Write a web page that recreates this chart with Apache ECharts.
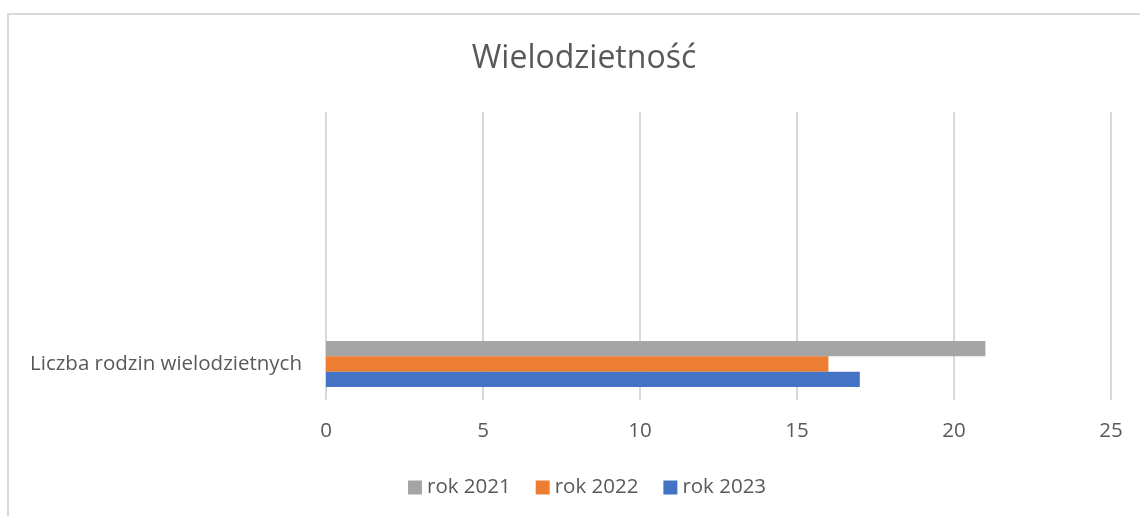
<!DOCTYPE html>
<html><head><meta charset="utf-8">
<script src="https://cdn.jsdelivr.net/npm/echarts@6/dist/echarts.min.js"></script>
<style>html,body{margin:0;padding:0;background:#fff}#c{width:1140px;height:516px}</style>
</head><body><div id="c"></div>
<script>
const titleText = 'Wielodzietność';
const categories = ['Liczba rodzin wielodzietnych', '', '', ''];
const seriesNames = ['rok 2021', 'rok 2022', 'rok 2023'];
const values2021 = [21, null, null, null];
const values2022 = [16, null, null, null];
const values2023 = [17, null, null, null];
const xTicks = [0, 5, 10, 15, 20, 25];

const colors = ['#A5A5A5', '#ED7D31', '#4472C4'];
const FONT = 'Open Sans';
const chart = echarts.init(document.getElementById('c'), null, {renderer: 'canvas'});
const allValues = [values2021, values2022, values2023];
chart.setOption({
  animation: false,
  graphic: [{type: 'rect', shape: {x: 8, y: 14, width: 1200, height: 600},
    style: {fill: 'none', stroke: '#D9D9D9', lineWidth: 2}, silent: true, z: -1}],
  title: {text: titleText, left: 579, top: 38, textAlign: 'center',
    textStyle: {fontFamily: FONT, fontSize: 32, fontWeight: 'normal', color: '#595959'}},
  legend: {data: seriesNames, left: 403, top: 472, icon: 'rect', itemWidth: 14, itemHeight: 14, itemGap: 25,
    textStyle: {fontFamily: FONT, fontSize: 20.5, color: '#595959'}},
  grid: {left: 326, right: 29, top: 112, bottom: 116, containLabel: false},
  xAxis: {type: 'value', min: xTicks[0], max: xTicks[xTicks.length - 1], interval: 5,
    axisLine: {show: false}, axisTick: {show: false},
    splitLine: {lineStyle: {color: '#D9D9D9', width: 2}},
    axisLabel: {margin: 21, fontFamily: FONT, fontSize: 20.5, color: '#595959'}},
  yAxis: {type: 'category', data: categories,
    axisLine: {show: false}, axisTick: {show: false}, splitLine: {show: false},
    axisLabel: {margin: 24, fontFamily: FONT, fontSize: 20.5, color: '#595959'}},
  series: seriesNames.map((n, i) => ({
    name: n, type: 'bar', data: allValues[i], barGap: '0%', barCategoryGap: '36%',
    itemStyle: {color: colors[i]}
  }))
});
</script></body></html>
